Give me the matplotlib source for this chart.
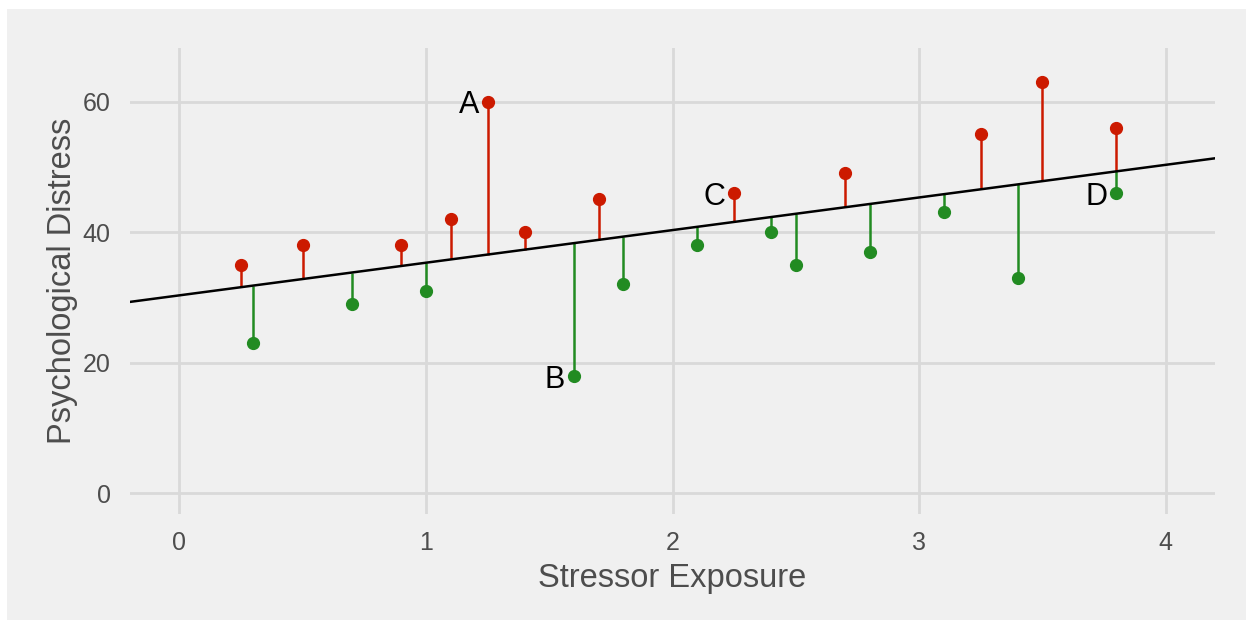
import numpy as np
import matplotlib
matplotlib.use("Agg")
import matplotlib.pyplot as plt
from matplotlib.patches import Rectangle

plt.rcParams['font.family'] = ['Liberation Sans', 'DejaVu Sans']

# data
stress = [0.25, 0.3, 0.5, 0.7, 0.9, 1.0, 1.1, 1.25, 1.4, 1.6, 1.7, 1.8,
          2.1, 2.25, 2.4, 2.5, 2.7, 2.8, 3.1, 3.25, 3.4, 3.5, 3.8, 3.8]
distress = [35, 23, 38, 29, 38, 31, 42, 60, 40, 18, 45, 32,
            38, 46, 40, 35, 49, 37, 43, 55, 33, 63, 56, 46]
labels = {7: "A", 9: "B", 13: "C", 23: "D"}
intercept = 30.3
slope = 5.0

x = np.array(stress)
y = np.array(distress)
fit = intercept + slope * x
above = y > fit

red = "#cc1a00"
green = "#228b22"
bg = "#f0f0f0"
grid = "#d9d9d9"
txt = "#4d4d4d"

fig = plt.figure(figsize=(12.53, 6.28), dpi=100, facecolor="white")
fig.patches.append(Rectangle((7 / 1253, 1 - 620 / 628), 1239 / 1253, 611 / 628,
                             transform=fig.transFigure, facecolor=bg,
                             edgecolor="none", zorder=-10))
ax = fig.add_axes([130 / 1253, 1 - 514 / 628, 1085 / 1253, 466 / 628])
ax.set_facecolor(bg)

ax.set_xlim(-0.2, 4.2)
ax.set_ylim(-3.2, 68.2)
ax.set_xticks([0, 1, 2, 3, 4])
ax.set_yticks([0, 20, 40, 60])
ax.grid(True, color=grid, linewidth=2)
ax.set_axisbelow(True)
for s in ax.spines.values():
    s.set_visible(False)
ax.tick_params(length=0, labelsize=18, labelcolor=txt)
ax.tick_params(axis="x", pad=12)
ax.tick_params(axis="y", pad=14)

# residual stems
ax.vlines(x[above], fit[above], y[above], color=red, linewidth=1.8, zorder=2)
ax.vlines(x[~above], y[~above], fit[~above], color=green, linewidth=1.8, zorder=2)

xs = np.array([-0.2, 4.2])
ax.plot(xs, intercept + slope * xs, color="black", linewidth=1.8, zorder=3)

ax.plot(x[above], y[above], "o", color=red, markersize=8.5, zorder=4)
ax.plot(x[~above], y[~above], "o", color=green, markersize=8.5, zorder=4)

for i, lab in labels.items():
    ax.text(x[i] - 0.035, y[i] - 0.6, lab, ha="right", va="center", fontsize=22, color="black")

ax.set_xlabel("Stressor Exposure", fontsize=23.5, color=txt, labelpad=6)
ax.set_ylabel("Psychological Distress", fontsize=23.5, color=txt, labelpad=3)

fig.savefig("out.png", dpi=100, facecolor="white")
